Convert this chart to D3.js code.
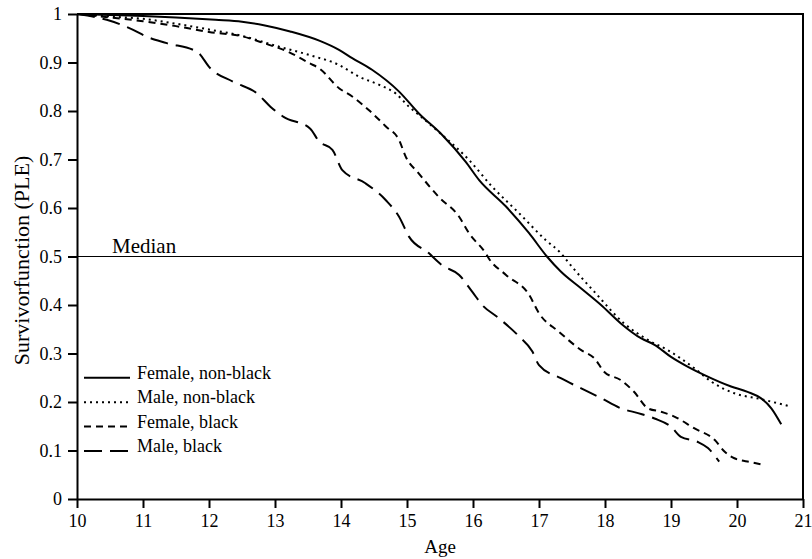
<!DOCTYPE html>
<html>
<head>
<meta charset="utf-8">
<script src="https://cdn.jsdelivr.net/npm/d3@7"></script>
<style>
  body { margin: 0; background: #fff; }
  svg text { font-family: "Liberation Serif", "DejaVu Serif", serif; fill: #000; }
</style>
</head>
<body>
<div id="chart"></div>
<script>
// survival curves (PLE) by age
const xTicks = [10, 11, 12, 13, 14, 15, 16, 17, 18, 19, 20, 21];
const yTicks = [0, 0.1, 0.2, 0.3, 0.4, 0.5, 0.6, 0.7, 0.8, 0.9, 1];

const femaleNonBlack = [
  [10, 1.0], [10.5, 0.998], [11, 0.996], [11.5, 0.993], [12.1, 0.988], [12.5, 0.984], [12.83, 0.977],
  [13.23, 0.964], [13.67, 0.945], [13.97, 0.926], [14.17, 0.909], [14.47, 0.885], [14.88, 0.840],
  [15.18, 0.795], [15.53, 0.751], [15.89, 0.695], [16.09, 0.658], [16.5, 0.603], [16.85, 0.548],
  [17.12, 0.5], [17.33, 0.469], [17.64, 0.434], [17.94, 0.40], [18.24, 0.362], [18.55, 0.331],
  [18.75, 0.318], [19.0, 0.293], [19.25, 0.273], [19.5, 0.256], [19.91, 0.232], [20.16, 0.221],
  [20.36, 0.208], [20.52, 0.187], [20.67, 0.154]
];
const maleNonBlack = [
  [10, 1.0], [10.5, 0.995], [11, 0.99], [11.5, 0.98], [12, 0.968], [12.5, 0.955], [13, 0.935],
  [13.53, 0.915], [13.97, 0.895], [14.27, 0.871], [14.58, 0.854], [14.83, 0.836], [15.03, 0.809],
  [15.18, 0.792], [15.53, 0.751], [15.94, 0.699], [16.29, 0.644], [16.7, 0.589], [17.1, 0.534],
  [17.33, 0.507], [17.48, 0.482], [17.84, 0.427], [18.29, 0.362], [18.65, 0.328], [18.95, 0.307],
  [19.35, 0.270], [19.61, 0.242], [19.96, 0.218], [20.36, 0.206], [20.77, 0.192]
];
const femaleBlack = [
  [10, 1.0], [10.5, 0.993], [11, 0.985], [11.5, 0.975], [12, 0.963], [12.5, 0.954], [12.83, 0.94],
  [13.2, 0.922], [13.53, 0.898], [13.67, 0.888], [13.97, 0.847], [14.17, 0.83], [14.42, 0.802],
  [14.68, 0.768], [14.88, 0.74], [14.98, 0.706], [15.18, 0.671], [15.48, 0.623], [15.79, 0.582],
  [15.94, 0.548], [16.19, 0.507], [16.24, 0.496], [16.5, 0.462], [16.85, 0.421], [17.0, 0.383],
  [17.3, 0.345], [17.64, 0.307], [17.84, 0.29], [17.99, 0.262], [18.24, 0.245], [18.44, 0.221],
  [18.65, 0.187], [18.85, 0.18], [19.05, 0.17], [19.35, 0.146], [19.66, 0.122], [19.81, 0.098],
  [19.96, 0.084], [20.21, 0.076], [20.41, 0.07]
];
const maleBlack = [
  [10, 1.0], [10.45, 0.988], [10.81, 0.97], [11.06, 0.953], [11.36, 0.94], [11.82, 0.922],
  [12.02, 0.888], [12.37, 0.86], [12.73, 0.836], [12.93, 0.809], [13.13, 0.788], [13.53, 0.764],
  [13.67, 0.737], [13.87, 0.72], [14.02, 0.678], [14.37, 0.651], [14.68, 0.616], [14.88, 0.582],
  [15.03, 0.541], [15.33, 0.507], [15.53, 0.482], [15.79, 0.462], [15.99, 0.427], [16.14, 0.40],
  [16.39, 0.373], [16.7, 0.335], [16.9, 0.304], [17.0, 0.276], [17.33, 0.249], [17.64, 0.228],
  [17.94, 0.208], [18.24, 0.187], [18.5, 0.177], [18.75, 0.166], [19.0, 0.149], [19.15, 0.128],
  [19.4, 0.118], [19.56, 0.105], [19.73, 0.077]
];

const seriesNames = ["Female, non-black", "Male, non-black", "Female, black", "Male, black"];
const seriesData = [femaleNonBlack, maleNonBlack, femaleBlack, maleBlack];
const dashes = [null, "2,4", "7,5", "18,8"];
const medianValue = 0.5;

const svgWidth = 812, svgHeight = 559;
const margin = { top: 14, right: 9, bottom: 60, left: 77 };
const width = svgWidth - margin.left - margin.right;
const height = svgHeight - margin.top - margin.bottom;

const svg = d3.select("#chart").append("svg").attr("width", svgWidth).attr("height", svgHeight);
const g = svg.append("g").attr("transform", `translate(${margin.left},${margin.top})`);

const x = d3.scaleLinear().domain([10, 21]).range([0, width]);
const y = d3.scaleLinear().domain([0, 1]).range([height, 0]);

// frame (top + right)
g.append("path").attr("d", `M0,0H${width}V${height}`).attr("fill", "none").attr("stroke", "#000").attr("stroke-width", 2);

// axes
const xAxis = g.append("g").attr("transform", `translate(0,${height})`)
  .call(d3.axisBottom(x).tickValues(xTicks).tickSize(9).tickSizeOuter(0).tickPadding(6).tickFormat(d3.format("d")));
const yAxis = g.append("g")
  .call(d3.axisLeft(y).tickValues(yTicks).tickSize(9).tickSizeOuter(0).tickPadding(6).tickFormat(d => (d === 0 || d === 1) ? String(d) : d.toFixed(1)));
[xAxis, yAxis].forEach(a => {
  a.select(".domain").attr("stroke-width", 2);
  a.selectAll(".tick line").attr("stroke-width", 2);
  a.selectAll(".tick text").style("font-size", "18px").attr("fill", "#000");
});

// median line
g.append("line").attr("x1", 0).attr("x2", width).attr("y1", y(medianValue)).attr("y2", y(medianValue))
  .attr("stroke", "#000").attr("stroke-width", 1);
g.append("text").attr("x", 35).attr("y", y(medianValue) - 4).style("font-size", "21px").text("Median");

// curves
const line = d3.line().x(d => x(d[0])).y(d => y(d[1])).curve(d3.curveMonotoneX);
seriesData.forEach((s, i) => {
  g.append("path").datum(s).attr("d", line).attr("fill", "none").attr("stroke", "#000")
    .attr("stroke-width", 2).attr("stroke-dasharray", dashes[i]);
});

// legend
const legend = g.append("g").attr("transform", `translate(7,${y(0.25)})`);
seriesNames.forEach((name, i) => {
  const ly = i * 24.4;
  legend.append("line").attr("x1", 0).attr("x2", 46).attr("y1", ly).attr("y2", ly)
    .attr("stroke", "#000").attr("stroke-width", 2).attr("stroke-dasharray", dashes[i]);
  legend.append("text").attr("x", 53).attr("y", ly + 1).style("font-size", "18px").text(name);
});

// axis titles
svg.append("text").attr("x", margin.left + width / 2).attr("y", 553).attr("text-anchor", "middle")
  .style("font-size", "19px").text("Age");
svg.append("text").attr("transform", `translate(29,${margin.top + height / 2 + 4}) rotate(-90)`)
  .attr("text-anchor", "middle").style("font-size", "22px").text("Survivorfunction (PLE)");
</script>
</body>
</html>
